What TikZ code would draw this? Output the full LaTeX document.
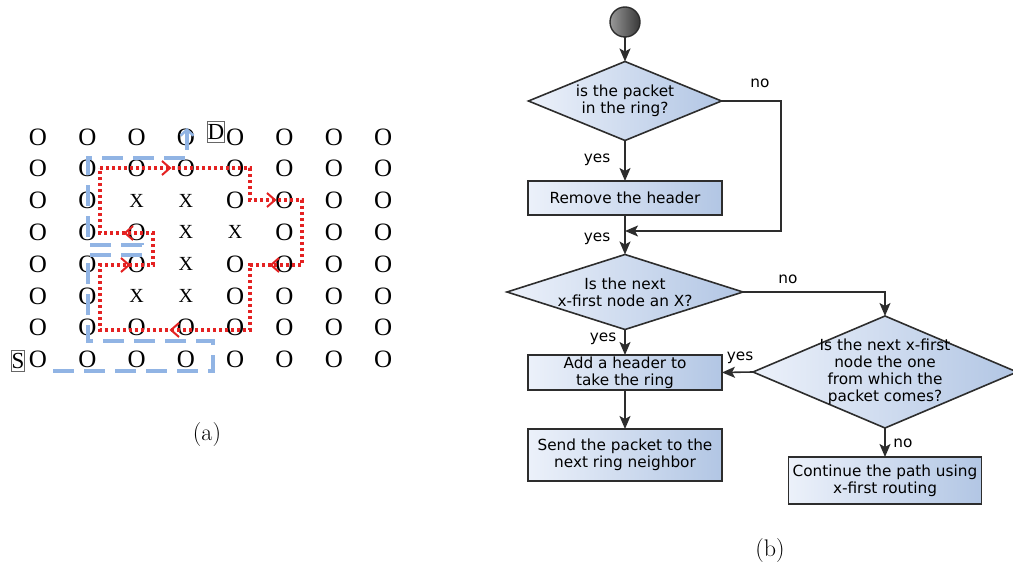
\documentclass[tikz,border=0pt]{standalone}
\usepackage{fontspec}
\usetikzlibrary{shapes.geometric,arrows.meta}
\newfontfamily\flowfont{DejaVu Sans}
\newfontfamily\gridfont{Liberation Serif}
\definecolor{pathred}{RGB}{228,34,34}
\definecolor{pathblue}{RGB}{145,180,228}
\definecolor{boxleft}{RGB}{236,241,250}
\definecolor{boxright}{RGB}{178,198,228}
\definecolor{edge}{RGB}{45,45,45}
% cells of the mesh that hold a faulty node
\expandafter\def\csname blk-2-2\endcsname{}
\expandafter\def\csname blk-3-2\endcsname{}
\expandafter\def\csname blk-3-3\endcsname{}
\expandafter\def\csname blk-4-3\endcsname{}
\expandafter\def\csname blk-3-4\endcsname{}
\expandafter\def\csname blk-2-5\endcsname{}
\expandafter\def\csname blk-3-5\endcsname{}
\begin{document}
\begin{tikzpicture}[x=1pt,y=-1pt,
  every node/.style={inner sep=0pt, outer sep=0pt},
  cell/.style={font=\gridfont\fontsize{25}{25}\selectfont},
  blocked/.style={font=\gridfont\fontsize{20}{20}\selectfont},
  endpoint/.style={draw=gray!80!black, line width=1pt, inner xsep=0.3pt, inner ysep=2.5pt,
    font=\gridfont\fontsize{23}{23}\selectfont},
  redpath/.style={draw=pathred, line width=3.2pt, dash pattern=on 3.2pt off 2.8pt},
  redchev/.style={draw=pathred, line width=2pt},
  bluepath/.style={draw=pathblue, line width=3.5pt, dash pattern=on 21pt off 10pt},
  fcfont/.style={font=\flowfont\fontsize{15.3}{17}\selectfont},
  fcbox/.style={fcfont, draw=edge, line width=1.6pt, left color=boxleft, right color=boxright,
    minimum width=194pt, align=center},
  fcdiam/.style={diamond, draw=edge, line width=1.6pt, left color=boxleft, right color=boxright},
  fctext/.style={fcfont, align=center},
  fclabel/.style={fcfont},
  caption/.style={font=\fontsize{24}{24}\selectfont},
  conn/.style={draw=edge, line width=1.6pt, -{Stealth[length=13pt,width=11pt,inset=3pt]}}
]
\useasboundingbox (0,0) rectangle (1013,569);

% ---------- (a) the mesh ----------
\foreach \i in {0,...,7}{
  \foreach \j in {0,...,7}{
    \ifcsname blk-\i-\j\endcsname
      \node[blocked] (g-\i-\j) at ({38+49.3*\i},{137+31.8*\j}) {X};
    \else
      \node[cell] (g-\i-\j) at ({38+49.3*\i},{137+31.8*\j}) {O};
    \fi
  }
}
\node[endpoint] (dst) at (216,132) {D};
\node[endpoint] (src) at (18,361) {S};

% ring route around the faulty region
\draw[redpath] (100,168) -- (250,168) -- (250,200) -- (302,200) -- (302,265) -- (250,265)
  -- (250,330) -- (100,330) -- (100,265) -- (153,265) -- (153,233) -- (100,233) -- cycle;
\foreach \x/\y/\d in {168/168/1, 273/200/1, 273/265/-1, 173/330/-1, 127/265/1, 127/233/-1}
  \draw[redchev] ({\x-6*\d},{\y-7}) -- ({\x+2*\d},\y) -- ({\x-6*\d},{\y+7});

% route from S to D
\draw[bluepath, -{Straight Barb[length=6pt,width=13pt,line width=2.5pt]}]
  (53,371) -- (213,371) -- (213,341) -- (88,341) -- (88,255) -- (142,255) -- (142,245)
  -- (88,245) -- (88,158) -- (187,158) -- (187,128);

\node[caption] (capa) at (207,435) {(a)};

% ---------- (b) the routing flowchart ----------
\node[circle, draw=edge, line width=1.4pt, minimum size=30pt, left color=black!40, right color=black!78]
  (c0) at (625,22) {};
\node[fcdiam, minimum width=193pt, minimum height=79pt] (d1) at (625,101) {};
\node[fctext] (d1t) at (d1.center) {is the packet\\in the ring?};
\node[fcbox, minimum height=34pt] (b1) at (625,198) {Remove the header};
\node[fcdiam, minimum width=236pt, minimum height=75pt] (d2) at (625,292) {};
\node[fctext] (d2t) at (d2.center) {Is the next\\x-first node an X?};
\node[fcbox, minimum height=35pt] (b2) at (625,372.5) {Add a header to\\take the ring};
\node[fcbox, minimum height=52pt] (b3) at (625,455) {Send the packet to the\\next ring neighbor};
\node[fcdiam, minimum width=264pt, minimum height=112pt] (d3) at (885,372) {};
\node[fctext] (d3t) at (d3.center) {Is the next x-first\\node the one\\from which the\\packet comes?};
\node[fcbox, minimum width=193pt, minimum height=47pt] (b4) at (885,480.5) {Continue the path using\\x-first routing};

\coordinate (r1) at (781,231);
\coordinate (j1) at (625,231);

\draw[conn] (c0) -- (d1);
\draw[conn] (d1) -- (b1);
\draw[conn] (d1.east) -| (r1) -- (j1);
\draw[conn] (b1) -- (d2);
\draw[conn] (d2.east) -| (d3.north);
\draw[conn] (d2) -- (b2);
\draw[conn] (d3.west) -- (b2.east);
\draw[conn] (b2) -- (b3);
\draw[conn] (d3.south) -- (b4.north);

\node[fclabel] (l1) at (760,83) {no};
\node[fclabel] (l2) at (597,160) {yes};
\node[fclabel] (l3) at (597,239) {yes};
\node[fclabel] (l4) at (788,279) {no};
\node[fclabel] (l5) at (603,339) {yes};
\node[fclabel] (l6) at (740,358) {yes};
\node[fclabel] (l7) at (903,443) {no};

\node[caption] (capb) at (770,551) {(b)};
\end{tikzpicture}
\end{document}
